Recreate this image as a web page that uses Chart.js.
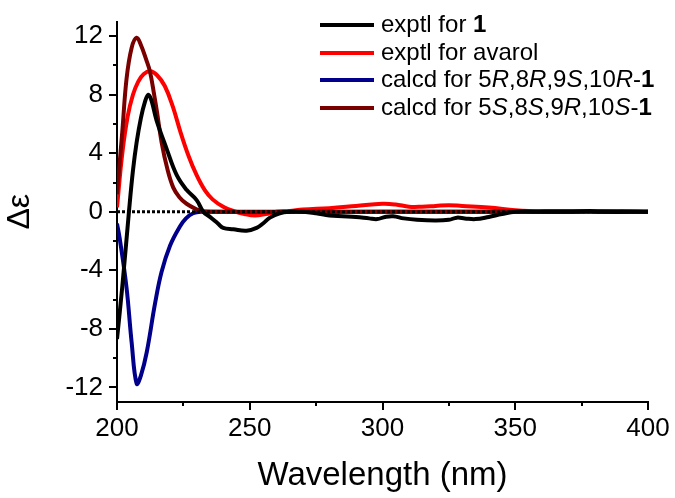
<!DOCTYPE html>
<html>
<head>
<meta charset="utf-8">
<script src="https://cdn.jsdelivr.net/npm/chart.js@4/dist/chart.umd.min.js"></script>
<style>
    html, body { margin: 0; padding: 0; background: #fff; }
    #wrap { width: 675px; height: 498px; }
</style>
</head>
<body>
<div id="wrap"><canvas id="cdChart" width="675" height="498"></canvas></div>
<script>
// CD spectra
const wlExptl1 = [200, 202, 204.5, 206, 207.4, 209, 210.5, 211.8, 213, 214.9, 218.7, 222.5, 226.2, 230, 232.5, 235, 238, 240, 243.8, 248.8, 252.6, 255, 257.6, 261.3, 265, 270, 275, 280, 285, 290, 295, 298, 301, 304, 308, 313, 320, 325, 328, 331, 335, 340, 345, 350, 360, 370, 378, 382, 400];
const deExptl1 = [-8.7, -5.1, 0, 2.8, 4.75, 6.4, 7.5, 8, 7.6, 6.25, 4.3, 2.5, 1.5, 0.8, 0, -0.35, -0.8, -1.1, -1.2, -1.3, -1.1, -0.8, -0.4, -0.1, 0, 0, -0.1, -0.25, -0.3, -0.35, -0.45, -0.5, -0.35, -0.3, -0.45, -0.55, -0.6, -0.55, -0.4, -0.45, -0.5, -0.35, -0.15, 0, 0, 0, 0.05, 0, 0];

const wlAvarol = [200, 202, 204, 206, 208, 210, 212.5, 215, 218, 221, 224, 227, 230, 233, 236, 240, 244, 248, 252, 256, 260, 265, 270, 280, 290, 300, 305, 310, 315, 320, 325, 330, 340, 350, 355, 365, 380, 390, 400];
const deAvarol = [0.3, 4, 6.5, 8, 8.9, 9.4, 9.6, 9.35, 8.6, 7.2, 5.4, 3.8, 2.5, 1.5, 0.85, 0.35, 0.05, -0.15, -0.25, -0.15, 0, 0.05, 0.15, 0.25, 0.4, 0.55, 0.5, 0.35, 0.35, 0.4, 0.45, 0.4, 0.3, 0.1, 0.05, 0.05, 0.05, 0.05, 0];

const wlCalcdR = [200, 201, 203.6, 205.5, 207.4, 209, 211.2, 214.3, 216.8, 220, 223.7, 226, 228.7, 232, 240, 300, 400];
const deCalcdR = [-0.8, -1.8, -5.2, -8.9, -11.75, -11.2, -9.6, -6.3, -4.1, -2.3, -1.0, -0.45, -0.1, 0, 0, 0, 0];

const wlCalcdS = [200, 202, 203.6, 205.5, 207.4, 209, 211, 212.4, 214, 215, 216.8, 219, 221.2, 223.5, 226.2, 231, 236, 300, 400];
const deCalcdS = [1.2, 5.5, 9.1, 11.2, 11.9, 11.4, 10.4, 9.6, 8, 6.9, 4.75, 2.9, 1.65, 1.0, 0.55, 0.1, 0, 0, 0];

const wlZero = [200, 400];
const deZero = [0, 0];

const xTicks = [200, 225, 250, 275, 300, 325, 350, 375, 400];
const yTicks = [-12, -10, -8, -6, -4, -2, 0, 2, 4, 6, 8, 10, 12];

const seriesLabels = ["exptl for 1", "exptl for avarol", "calcd for 5R,8R,9S,10R-1", "calcd for 5S,8S,9R,10S-1"];
const seriesColors = ["#000000", "#ff0000", "#00008b", "#7a0000"];

// rich-text legend rows (bold / italic pieces)
const legendRows = [
    [["exptl for ", ""], ["1", "bold"]],
    [["exptl for avarol", ""]],
    [["calcd for 5", ""], ["R", "italic"], [",8", ""], ["R", "italic"], [",9", ""], ["S", "italic"], [",10", ""], ["R", "italic"], ["-", ""], ["1", "bold"]],
    [["calcd for 5", ""], ["S", "italic"], [",8", ""], ["S", "italic"], [",9", ""], ["R", "italic"], [",10", ""], ["S", "italic"], ["-", ""], ["1", "bold"]],
];

const FONT = "'Liberation Sans', Arial, sans-serif";

function toPoints(xs, ys) {
    return xs.map((x, i) => ({ x, y: ys[i] }));
}

function curve(label, xs, ys, color) {
    return {
        label,
        data: toPoints(xs, ys),
        borderColor: color,
        borderWidth: 4,
        pointRadius: 0,
        fill: false,
        tension: 0.4,
    };
}

// major / minor tick marks drawn outside the axes
const tickMarks = {
    id: "tickMarks",
    afterDraw(chart) {
        const ctx = chart.ctx;
        const xs = chart.scales.x;
        const ys = chart.scales.y;
        ctx.save();
        ctx.strokeStyle = "#000";
        ctx.lineWidth = 2;
        ctx.beginPath();
        xTicks.forEach((v) => {
            const px = Math.round(xs.getPixelForValue(v));
            const len = v % 50 === 0 ? 8 : 4;
            ctx.moveTo(px, xs.top);
            ctx.lineTo(px, xs.top + len);
        });
        yTicks.forEach((v) => {
            const py = Math.round(ys.getPixelForValue(v));
            const len = v % 4 === 0 ? 8 : 4;
            ctx.moveTo(ys.right, py);
            ctx.lineTo(ys.right - len, py);
        });
        ctx.stroke();
        ctx.restore();
    },
};

const richLegend = {
    id: "richLegend",
    afterDraw(chart) {
        const ctx = chart.ctx;
        const lineX0 = 320, lineX1 = 374, textX = 381;
        const rowY = [25, 53, 80, 108];
        ctx.save();
        ctx.textBaseline = "middle";
        legendRows.forEach((row, i) => {
            const y = rowY[i];
            ctx.strokeStyle = seriesColors[i];
            ctx.lineWidth = 4;
            ctx.beginPath();
            ctx.moveTo(lineX0, y);
            ctx.lineTo(lineX1, y);
            ctx.stroke();
            let x = textX;
            ctx.fillStyle = "#000";
            row.forEach(([txt, style]) => {
                ctx.font = `${style} 24px ${FONT}`.trim();
                ctx.fillText(txt, x, y);
                x += ctx.measureText(txt).width;
            });
        });
        ctx.restore();
    },
};

new Chart(document.getElementById("cdChart"), {
    type: "line",
    data: {
        datasets: [
            {
                label: "zero",
                data: toPoints(wlZero, deZero),
                borderColor: "#000",
                borderWidth: 3,
                borderDash: [3, 2],
                pointRadius: 0,
            },
            curve(seriesLabels[0], wlExptl1, deExptl1, seriesColors[0]),
            curve(seriesLabels[3], wlCalcdS, deCalcdS, seriesColors[3]),
            curve(seriesLabels[2], wlCalcdR, deCalcdR, seriesColors[2]),
            curve(seriesLabels[1], wlAvarol, deAvarol, seriesColors[1]),
        ],
    },
    options: {
        responsive: false,
        animation: false,
        layout: { padding: { left: 0, right: 27, top: 8, bottom: 0 } },
        plugins: {
            legend: { display: false },
            tooltip: { enabled: false },
        },
        scales: {
            x: {
                type: "linear",
                min: 200,
                max: 400,
                afterBuildTicks: (axis) => { axis.ticks = xTicks.map((v) => ({ value: v })); },
                afterFit: (axis) => { axis.height = 96; },
                grid: { drawOnChartArea: false, tickLength: 8, tickColor: "rgba(0,0,0,0)" },
                border: { color: "#000", width: 2 },
                ticks: {
                    color: "#000",
                    padding: 3,
                    maxRotation: 0,
                    font: { family: FONT, size: 26 },
                    callback: (v) => (v % 50 === 0 ? v : ""),
                },
                title: {
                    display: true,
                    text: "Wavelength (nm)",
                    color: "#000",
                    font: { family: FONT, size: 33 },
                    padding: { top: 0, bottom: 2 },
                },
            },
            y: {
                min: -13,
                max: 13,
                afterBuildTicks: (axis) => { axis.ticks = yTicks.map((v) => ({ value: v })); },
                afterFit: (axis) => { axis.width = 117; },
                grid: { drawOnChartArea: false, tickLength: 8, tickColor: "rgba(0,0,0,0)" },
                border: { color: "#000", width: 2 },
                ticks: {
                    color: "#000",
                    padding: 6,
                    font: { family: FONT, size: 26 },
                    callback: (v) => (v % 4 === 0 ? v : ""),
                },
                title: {
                    display: true,
                    text: "Δε",
                    color: "#000",
                    font: { family: FONT, size: 32 },
                    padding: { top: 1, bottom: 0 },
                },
            },
        },
    },
    plugins: [tickMarks, richLegend],
});
</script>
</body>
</html>
